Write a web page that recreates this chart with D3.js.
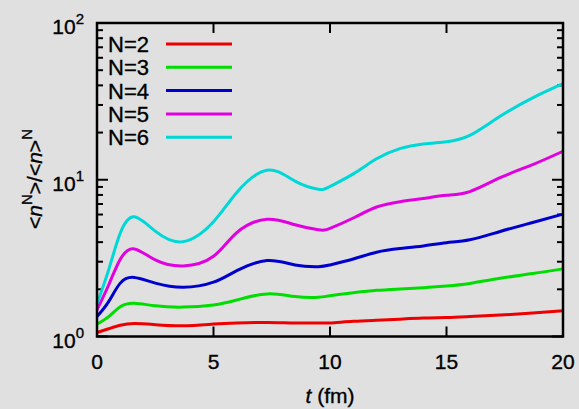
<!DOCTYPE html>
<html>
<head>
<meta charset="utf-8">
<script src="https://cdn.jsdelivr.net/npm/d3@7"></script>
<style>
body { margin:0; background:#e0e0e0; }
text { font-family: "Liberation Sans", Arial, sans-serif; fill:#000; stroke:#000; stroke-width:0.35; }
</style>
</head>
<body>
<script>
// time axis (fm)
const tVals = [0, 0.5, 1, 1.6, 2.5, 3.7, 5, 6, 7.3, 8.5, 9.5, 10, 11, 12, 13, 14, 15, 16, 17.3, 18.7, 20];

const n2 = [1.06, 1.12, 1.18, 1.21, 1.19, 1.17, 1.2, 1.22, 1.23, 1.22, 1.22, 1.22, 1.25, 1.27, 1.29, 1.31, 1.32, 1.34, 1.37, 1.41, 1.46];
const n3 = [1.2, 1.34, 1.55, 1.63, 1.57, 1.54, 1.59, 1.71, 1.87, 1.8, 1.78, 1.82, 1.9, 1.97, 2.01, 2.05, 2.1, 2.18, 2.35, 2.52, 2.7];
const n4 = [1.34, 1.67, 2.19, 2.38, 2.19, 2.06, 2.22, 2.63, 3.05, 2.86, 2.79, 2.86, 3.12, 3.45, 3.64, 3.78, 3.97, 4.14, 4.68, 5.34, 6.04];
const n5 = [1.48, 2.13, 3.11, 3.62, 3.08, 2.82, 3.25, 4.6, 5.6, 5.16, 4.8, 4.9, 5.7, 6.7, 7.25, 7.6, 7.95, 8.4, 10.3, 12.5, 15.2];
const n6 = [1.62, 2.66, 4.57, 5.8, 4.7, 4.03, 5.4, 8.3, 11.5, 9.8, 8.7, 9.06, 10.9, 13.6, 15.8, 16.9, 17.5, 19.2, 25.4, 33.3, 41];

const seriesNames = ["N=2", "N=3", "N=4", "N=5", "N=6"];
const seriesVals = [n2, n3, n4, n5, n6];
const colors = ["#ee0000", "#00dd00", "#0000cc", "#e000e0", "#00d8d8"];

const xTicks = [0, 5, 10, 15, 20];
const yTicks = [1, 10, 100];
const yExps = ["0", "1", "2"];

const W = 579, H = 409;
const pL = 97, pR = 563, pT = 23, pB = 336.5;

const svg = d3.select("body").append("svg")
	.attr("width", W)
	.attr("height", H);

const x = d3.scaleLinear().domain([0, 20]).range([pL, pR]);
const y = d3.scaleLog().domain([1, 100]).range([pB, pT]);

// minor ticks on the log axis
const minor = [];
for (let d = 1; d < 100; d *= 10) {
	for (let k = 2; k <= 9; k++) minor.push(d * k);
}

const axes = svg.append("g").attr("stroke", "#000").attr("stroke-width", 2);

// y ticks, left and right, pointing inward
axes.append("g").selectAll("line")
	.data(yTicks.concat(yTicks))
	.join("line")
	.attr("x1", function(d, i) { return i < 3 ? pL : pR; })
	.attr("x2", function(d, i) { return i < 3 ? pL + 11 : pR - 11; })
	.attr("y1", d => y(d))
	.attr("y2", d => y(d));

axes.append("g").selectAll("line")
	.data(minor.concat(minor))
	.join("line")
	.attr("x1", function(d, i) { return i < minor.length ? pL : pR; })
	.attr("x2", function(d, i) { return i < minor.length ? pL + 6 : pR - 6; })
	.attr("y1", d => y(d))
	.attr("y2", d => y(d));

// x ticks, bottom and top
axes.append("g").selectAll("line")
	.data(xTicks.slice(1, 4))
	.join("line")
	.attr("x1", d => x(d)).attr("x2", d => x(d))
	.attr("y1", pB).attr("y2", pB - 10);
axes.append("g").selectAll("line")
	.data(xTicks.slice(1, 4))
	.join("line")
	.attr("x1", d => x(d)).attr("x2", d => x(d))
	.attr("y1", pT).attr("y2", pT + 10);

// curves
const line = d3.line()
	.x(d => x(d[0]))
	.y(d => y(d[1]))
	.curve(d3.curveNatural);

svg.append("g").selectAll("path")
	.data(seriesVals)
	.join("path")
	.attr("d", vals => line(vals.map((v, i) => [tVals[i], v])))
	.attr("fill", "none")
	.attr("stroke", (d, i) => colors[i])
	.attr("stroke-width", 3);

// frame
svg.append("rect")
	.attr("x", pL).attr("y", pT)
	.attr("width", pR - pL).attr("height", pB - pT)
	.attr("fill", "none")
	.attr("stroke", "#000")
	.attr("stroke-width", 2.5);

// tick labels
svg.append("g").selectAll("text")
	.data(xTicks)
	.join("text")
	.attr("x", d => x(d))
	.attr("y", 369)
	.attr("text-anchor", "middle")
	.attr("font-size", 21)
	.text(d => d);

const ylab = svg.append("g").selectAll("text")
	.data(yTicks)
	.join("text")
	.attr("x", 84)
	.attr("y", d => y(d) + 11)
	.attr("text-anchor", "end")
	.attr("font-size", 21);
ylab.append("tspan").text("10");
ylab.append("tspan")
	.attr("dy", -10)
	.attr("font-size", 15)
	.text((d, i) => yExps[i]);

// legend
const leg = svg.append("g").selectAll("g")
	.data(seriesNames)
	.join("g")
	.attr("transform", (d, i) => "translate(0," + (44 + i * 23.3) + ")");
leg.append("text")
	.attr("x", 108)
	.attr("y", 8)
	.attr("font-size", 22)
	.text(d => d);
leg.append("line")
	.attr("x1", 166).attr("x2", 232)
	.attr("y1", 0).attr("y2", 0)
	.attr("stroke", (d, i) => colors[i])
	.attr("stroke-width", 3);

// axis titles
const xt = svg.append("text")
	.attr("x", 330)
	.attr("y", 403)
	.attr("text-anchor", "middle")
	.attr("font-size", 21);
xt.append("tspan").attr("font-style", "italic").text("t");
xt.append("tspan").text(" (fm)");

const yt = svg.append("text")
	.attr("transform", "translate(42,179) rotate(-90)")
	.attr("text-anchor", "middle")
	.attr("font-size", 21);
yt.append("tspan").text("<");
yt.append("tspan").attr("font-style", "italic").text("n");
yt.append("tspan").attr("dy", -10).attr("font-size", 15).text("N");
yt.append("tspan").attr("dy", 10).text(">/<");
yt.append("tspan").attr("font-style", "italic").text("n");
yt.append("tspan").text(">");
yt.append("tspan").attr("dy", -10).attr("font-size", 15).text("N");
</script>
</body>
</html>
